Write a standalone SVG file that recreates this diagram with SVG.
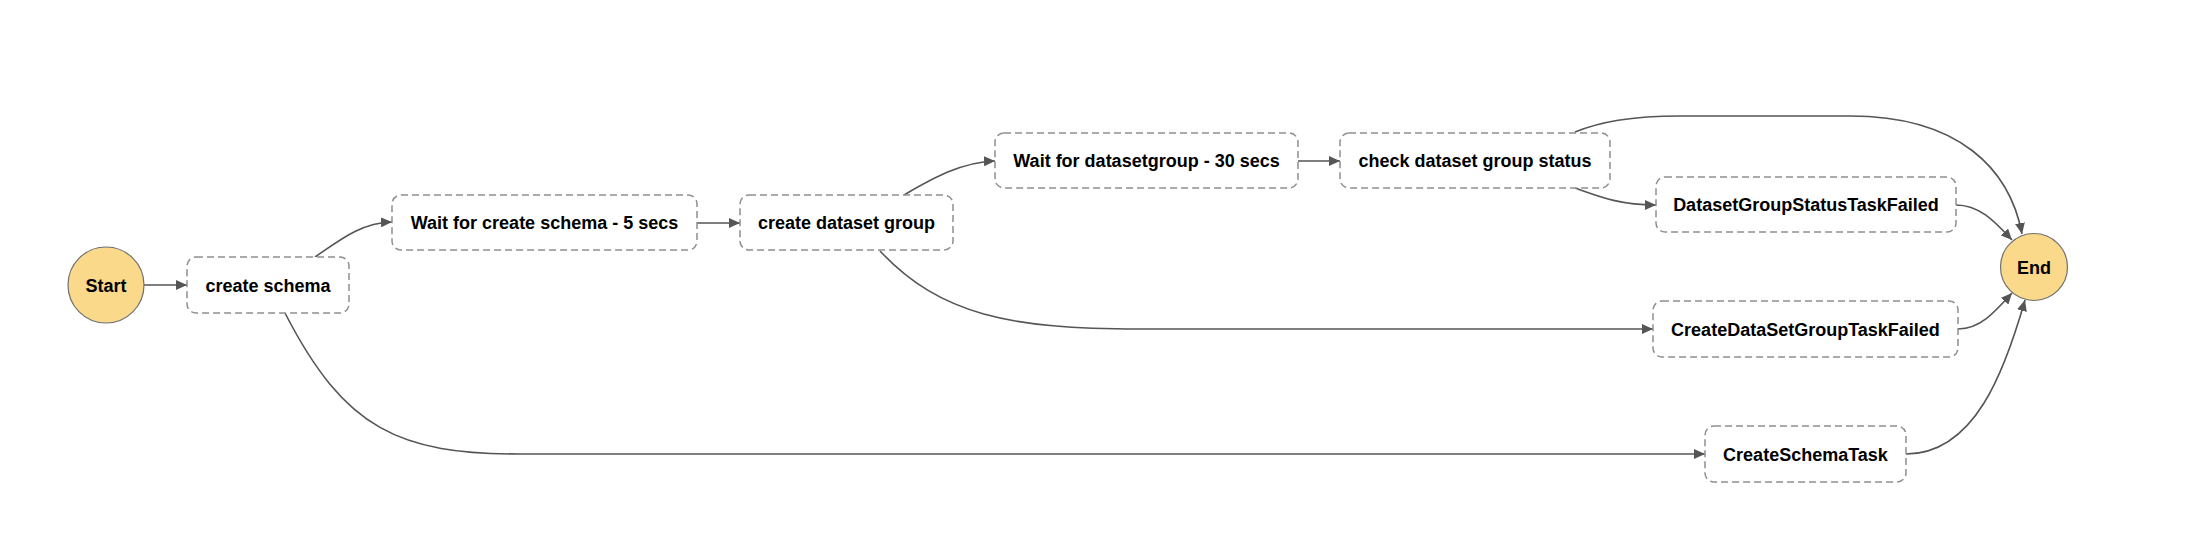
<svg xmlns="http://www.w3.org/2000/svg" width="2210" height="546" viewBox="0 0 2210 546">
<style>
.box{fill:#fff;stroke:#8f8f8f;stroke-width:1.5;stroke-dasharray:7,4}
.term{fill:#fad98a;stroke:#707070;stroke-width:1.2}
.lbl{font-family:"Liberation Sans",Arial,sans-serif;font-size:18px;font-weight:bold;fill:#000;text-anchor:middle}
.edge{fill:none;stroke:#555;stroke-width:1.6;marker-end:url(#arr)}
</style>
<defs>
<marker id="arr" markerUnits="userSpaceOnUse" markerWidth="11" markerHeight="10" refX="11" refY="5" orient="auto">
<path d="M0,0 L11,5 L0,10 z" fill="#555"/>
</marker>
</defs>
<rect width="2210" height="546" fill="#fff"/>
<g id="connectors">
<path class="edge" d="M144,285 L187,285"/>
<path class="edge" d="M315,257 C340,240 360,223 392,222"/>
<path class="edge" d="M697,223 L740,223"/>
<path class="edge" d="M904,195 C930,180 960,162 995,161"/>
<path class="edge" d="M880,251 C940,315 1010,329 1140,329 L1653,329"/>
<path class="edge" d="M1298,161 L1340,161"/>
<path class="edge" d="M1575,132 C1600,122 1630,116 1680,116 L1850,116 C1960,116 2010,170 2022,234"/>
<path class="edge" d="M1575,188 C1600,197 1620,205 1656,205"/>
<path class="edge" d="M1956,205 C1980,205 1995,222 2012,240"/>
<path class="edge" d="M1958,329 C1980,329 1995,312 2012,293"/>
<path class="edge" d="M1906,454 C1975,454 2005,370 2025,300"/>
<path class="edge" d="M285,313 C345,430 400,454 520,454 L1705,454"/>
</g>
<g id="start"><circle class="term" cx="106" cy="285" r="38"/><text class="lbl" x="106" y="291.5">Start</text></g>
<g id="create_schema"><rect class="box" x="187" y="257" width="162" height="56" rx="9"/><text class="lbl" x="268" y="291.5">create schema</text></g>
<g id="wait_schema"><rect class="box" x="392" y="195" width="305" height="55" rx="9"/><text class="lbl" x="544.5" y="229">Wait for create schema - 5 secs</text></g>
<g id="create_dataset_group"><rect class="box" x="740" y="195" width="213" height="55" rx="9"/><text class="lbl" x="846.5" y="229">create dataset group</text></g>
<g id="wait_datasetgroup"><rect class="box" x="995" y="133" width="303" height="55" rx="9"/><text class="lbl" x="1146.5" y="167">Wait for datasetgroup - 30 secs</text></g>
<g id="check_status"><rect class="box" x="1340" y="133" width="270" height="55" rx="9"/><text class="lbl" x="1475" y="167">check dataset group status</text></g>
<g id="dgs_failed"><rect class="box" x="1656" y="177" width="300" height="55" rx="9"/><text class="lbl" x="1806" y="211">DatasetGroupStatusTaskFailed</text></g>
<g id="cdsg_failed"><rect class="box" x="1653" y="301" width="305" height="56" rx="9"/><text class="lbl" x="1805.5" y="335.5">CreateDataSetGroupTaskFailed</text></g>
<g id="cs_task"><rect class="box" x="1705" y="426" width="201" height="56" rx="9"/><text class="lbl" x="1805.5" y="460.5">CreateSchemaTask</text></g>
<g id="end"><circle class="term" cx="2034" cy="267" r="33.5"/><text class="lbl" x="2034" y="273.5">End</text></g>
</svg>
